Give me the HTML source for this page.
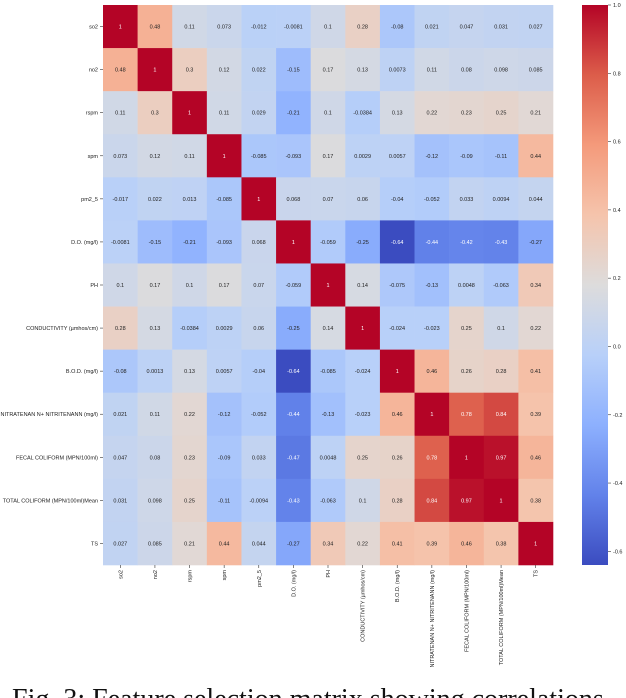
<!DOCTYPE html>
<html><head><meta charset="utf-8"><style>
html,body{margin:0;padding:0;background:#fff;width:626px;height:698px;overflow:hidden}
svg{display:block}
text{font-family:"Liberation Sans",sans-serif}
.cap{font-family:"Liberation Serif",serif;font-size:28px;fill:#111}
</style></head><body>
<svg id="chart" width="626" height="698"></svg>
<script>
const labels=["so2","no2","rspm","spm","pm2_5","D.O. (mg/l)","PH","CONDUCTIVITY (µmhos/cm)","B.O.D. (mg/l)","NITRATENAN N+ NITRITENANN (mg/l)","FECAL COLIFORM (MPN/100ml)","TOTAL COLIFORM (MPN/100ml)Mean","TS"];
const row0=[1,0.48,0.11,0.073,-0.012,-0.0081,0.1,0.28,-0.08,0.021,0.047,0.031,0.027];
const row1=[0.48,1,0.3,0.12,0.022,-0.15,0.17,0.13,0.0073,0.11,0.08,0.098,0.085];
const row2=[0.11,0.3,1,0.11,0.029,-0.21,0.1,-0.0384,0.13,0.22,0.23,0.25,0.21];
const row3=[0.073,0.12,0.11,1,-0.085,-0.093,0.17,0.0029,0.0057,-0.12,-0.09,-0.11,0.44];
const row4=[-0.017,0.022,0.013,-0.085,1,0.068,0.07,0.06,-0.04,-0.052,0.033,0.0094,0.044];
const row5=[-0.0081,-0.15,-0.21,-0.093,0.068,1,-0.059,-0.25,-0.64,-0.44,-0.42,-0.43,-0.27];
const row6=[0.1,0.17,0.1,0.17,0.07,-0.059,1,0.14,-0.075,-0.13,0.0048,-0.063,0.34];
const row7=[0.28,0.13,-0.0384,0.0029,0.06,-0.25,0.14,1,-0.024,-0.023,0.25,0.1,0.22];
const row8=[-0.08,0.0013,0.13,0.0057,-0.04,-0.64,-0.085,-0.024,1,0.46,0.26,0.28,0.41];
const row9=[0.021,0.11,0.22,-0.12,-0.052,-0.44,-0.13,-0.023,0.46,1,0.78,0.84,0.39];
const row10=[0.047,0.08,0.23,-0.09,0.033,-0.47,0.0048,0.25,0.26,0.78,1,0.97,0.46];
const row11=[0.031,0.098,0.25,-0.11,-0.0094,-0.43,-0.063,0.1,0.28,0.84,0.97,1,0.38];
const row12=[0.027,0.085,0.21,0.44,0.044,-0.27,0.34,0.22,0.41,0.39,0.46,0.38,1];
const matrix=[row0,row1,row2,row3,row4,row5,row6,row7,row8,row9,row10,row11,row12];
const cbTicks=[1.0,0.8,0.6,0.4,0.2,0.0,-0.2,-0.4,-0.6];
const vmin=-0.64,vmax=1;

const NS="http://www.w3.org/2000/svg";
const svg=document.getElementById('chart');
const L=103,R=553,T=5,B=565;
const n=labels.length,cw=(R-L)/n,ch=(B-T)/n;
const stops=[[59,76,192],[98,130,234],[141,176,254],[184,208,249],[221,220,220],[245,196,172],[244,154,123],[220,93,74],[180,4,38]];
function cmap(v){let t=(v-vmin)/(vmax-vmin);t=Math.max(0,Math.min(1,t));const p=t*8,i=Math.min(7,Math.floor(p)),f=p-i;const a=stops[i],b=stops[i+1];return [0,1,2].map(k=>Math.round(a[k]+(b[k]-a[k])*f));}
function el(tag,at){const e=document.createElementNS(NS,tag);for(const k in at)e.setAttribute(k,at[k]);svg.appendChild(e);return e;}
const xs=i=>L+i*cw, ys=j=>T+j*ch;
const cbT=5,cbB=565,cbL=582,cbR=608;
const cy=v=>cbB-(v-vmin)/(vmax-vmin)*(cbB-cbT);

matrix.forEach((row,j)=>row.forEach((v,i)=>{
  const c=cmap(v);
  const r=el('rect',{x:xs(i),y:ys(j),width:cw+0.3,height:ch+0.3,fill:`rgb(${c})`});
  
  
  const lum=0.299*c[0]+0.587*c[1]+0.114*c[2];
  const t=el('text',{x:xs(i)+cw/2,y:ys(j)+ch/2+2,'text-anchor':'middle','font-size':5.5,fill:lum<140?'#fff':'#222'});
  
  
  t.textContent=String(v);
}));
labels.forEach((lab,j)=>{
  el('line',{x1:L-3,x2:L,y1:ys(j)+ch/2,y2:ys(j)+ch/2,stroke:'#333','stroke-width':0.6});
  const t=el('text',{x:L-5,y:ys(j)+ch/2+2,'text-anchor':'end','font-size':5.5,fill:'#222'});
  
  
  t.textContent=lab;
  const x=xs(j)+cw/2;
  el('line',{x1:x,x2:x,y1:B,y2:B+3,stroke:'#333','stroke-width':0.6});
  const tx=el('text',{x:x+2,y:B+5,'text-anchor':'end','font-size':5.5,fill:'#222',transform:`rotate(-90 ${x+2} ${B+5})`});
  
  
  tx.textContent=lab;
});
const defs=document.createElementNS(NS,'defs');svg.appendChild(defs);
const g=document.createElementNS(NS,'linearGradient');g.setAttribute('id','cb');g.setAttribute('x1',0);g.setAttribute('y1',1);g.setAttribute('x2',0);g.setAttribute('y2',0);defs.appendChild(g);
stops.forEach((s,k)=>{const st=document.createElementNS(NS,'stop');st.setAttribute('offset',k/8);st.setAttribute('stop-color',`rgb(${s})`);g.appendChild(st);});
const cb=el('rect',{x:cbL,y:cbT,width:cbR-cbL,height:cbB-cbT,fill:'url(#cb)'});


cbTicks.forEach(v=>{
  el('line',{x1:cbR,x2:cbR+3,y1:cy(v),y2:cy(v),stroke:'#333','stroke-width':0.6});
  const t=el('text',{x:cbR+5,y:cy(v)+2,'font-size':5.5,fill:'#222'});
  
  
  t.textContent=v.toFixed(1);
});
const cap=el('text',{x:12,y:708,class:'cap'});


cap.textContent='Fig. 3: Feature selection matrix showing correlations';
</script>
</body></html>
